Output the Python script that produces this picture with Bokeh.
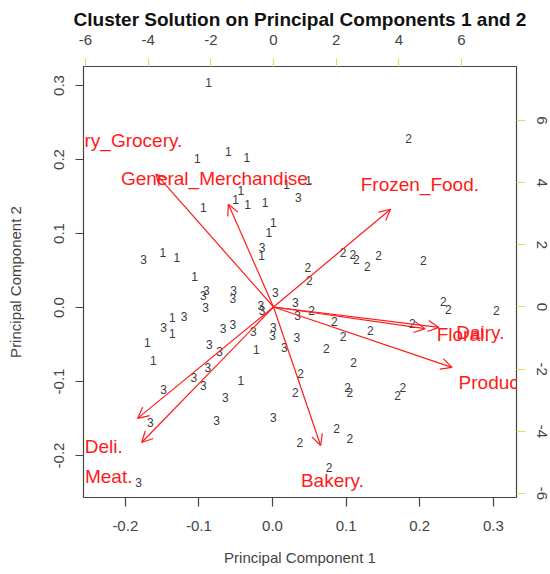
from bokeh.plotting import figure
from bokeh.models import (Range1d, LinearAxis, FixedTicker, PrintfTickFormatter,
                          Arrow, OpenHead, ColumnDataSource)
from bokeh.core.properties import value
from bokeh.embed import file_html
from bokeh.resources import INLINE

# ---- cluster scores on PC1 / PC2 ----
c1_x = [-0.087, -0.060, -0.102, -0.035, -0.094, -0.043, -0.050, -0.034, -0.010, 0.019, 0.049, 0.001,
        -0.005, -0.015, -0.149, -0.130, -0.106, -0.136, -0.136, -0.170, -0.162, -0.022, -0.043]
c1_y = [0.304, 0.211, 0.201, 0.203, 0.135, 0.158, 0.146, 0.139, 0.142, 0.166, 0.172, 0.115,
        0.101, 0.070, 0.074, 0.068, 0.042, -0.014, -0.035, -0.047, -0.072, -0.057, -0.099]

c2_x = [0.185, 0.096, 0.109, 0.114, 0.129, 0.144, 0.205, 0.048, 0.050, 0.053, 0.084, 0.232, 0.239,
        0.304, 0.190, 0.133, 0.096, 0.073, 0.110, 0.038, 0.031, 0.102, 0.105, 0.177, 0.170, 0.087,
        0.105, 0.037, 0.077]
c2_y = [0.228, 0.074, 0.072, 0.065, 0.055, 0.070, 0.064, 0.054, 0.036, -0.004, -0.019, 0.008, -0.003,
        -0.004, -0.022, -0.031, -0.039, -0.055, -0.074, -0.089, -0.115, -0.108, -0.115, -0.108, -0.119,
        -0.164, -0.177, -0.182, -0.216]

c3_x = [0.035, -0.014, -0.175, -0.090, -0.094, -0.053, -0.054, -0.091, -0.016, -0.014, 0.004, 0.031,
        0.034, -0.120, -0.148, -0.067, -0.054, -0.026, 0.001, 0.000, 0.033, 0.016, -0.086, -0.072,
        -0.088, -0.107, -0.094, -0.148, -0.064, -0.166, -0.076, 0.001, -0.182]
c3_y = [0.149, 0.081, 0.065, 0.023, 0.016, 0.023, 0.012, 0.000, 0.003, -0.004, 0.020, 0.007,
        -0.011, -0.012, -0.027, -0.028, -0.023, -0.032, -0.027, -0.038, -0.041, -0.054, -0.050, -0.059,
        -0.081, -0.095, -0.105, -0.111, -0.122, -0.155, -0.153, -0.149, -0.236]

# ---- variable loadings (secondary axes) ----
var_names = ["Dry_Grocery.", "General_Merchandise.", "Frozen_Food.", "Deli.", "Meat.",
             "Bakery.", "Produce.", "Dairy.", "Floral."]
load_x = [-4.69, -1.80, 4.67, -5.42, -5.26, 1.88, 7.12, 6.60, 6.05]
load_y = [5.35, 4.13, 3.93, -4.48, -5.45, -5.57, -2.43, -0.82, -0.87]

pc_ticks = [-0.2, -0.1, 0.0, 0.1, 0.2, 0.3]
load_ticks = [-6, -4, -2, 0, 2, 4, 6]

RED = "#ff1a1a"
FONT = "Liberation Sans"

p = figure(width=550, height=574,
           x_range=Range1d(-0.2568, 0.3315), y_range=Range1d(-0.2568, 0.3257),
           output_backend="svg", toolbar_location=None,
           min_border_left=83, min_border_right=34, min_border_top=66, min_border_bottom=77,
           x_axis_label="Principal Component 1", y_axis_label="Principal Component 2")
p.extra_x_ranges = {"load": Range1d(-6.064, 7.755)}
p.extra_y_ranges = {"load": Range1d(-6.129, 7.737)}

p.title.text = "Cluster Solution on Principal Components 1 and 2"
p.title.align = "center"
p.title.text_font = FONT
p.title.text_font_size = "19px"
p.title.text_font_style = "bold"
p.title.text_color = "#111111"
p.title.standoff = 3

p.xgrid.visible = False
p.ygrid.visible = False
p.outline_line_color = "#444444"
p.outline_line_width = 1.2
p.background_fill_color = "white"
p.border_fill_color = "white"


def style_axis(ax, tick_color, out, standoff, vertical=False):
    ax.axis_line_color = None
    ax.major_tick_line_color = tick_color
    ax.major_tick_line_width = 1.2
    ax.major_tick_out = out
    ax.major_tick_in = 0
    ax.minor_tick_line_color = None
    ax.major_label_text_font = FONT
    ax.major_label_text_font_size = "15px"
    ax.major_label_text_color = "#444444"
    ax.major_label_standoff = standoff
    ax.axis_label_text_font = FONT
    ax.axis_label_text_font_size = "15px"
    ax.axis_label_text_font_style = "normal"
    ax.axis_label_text_color = "#444444"
    if vertical:
        ax.major_label_orientation = "vertical"


xa = p.xaxis[0]
xa.ticker = FixedTicker(ticks=pc_ticks)
xa.formatter = PrintfTickFormatter(format="%.1f")
style_axis(xa, "#444444", 9, 14)
xa.axis_label_standoff = 15

ya = p.yaxis[0]
ya.ticker = FixedTicker(ticks=pc_ticks)
ya.formatter = PrintfTickFormatter(format="%.1f")
style_axis(ya, "#444444", 8, 11, vertical=True)
ya.axis_label_standoff = 28

top_ax = LinearAxis(x_range_name="load", ticker=FixedTicker(ticks=load_ticks),
                    formatter=PrintfTickFormatter(format="%d"))
style_axis(top_ax, "#e6dc5a", 8, 14)
p.add_layout(top_ax, "above")

right_ax = LinearAxis(y_range_name="load", ticker=FixedTicker(ticks=load_ticks),
                      formatter=PrintfTickFormatter(format="%d"))
style_axis(right_ax, "#e6dc5a", 9, 11, vertical=True)
p.add_layout(right_ax, "right")

text_kw = dict(text_font=value(FONT), text_font_size=value("12px"), text_color="#3a3a3a",
               text_align="center", text_baseline="middle")
p.text(x=c1_x, y=c1_y, text=["1"] * len(c1_x), **text_kw)
p.text(x=c2_x, y=c2_y, text=["2"] * len(c2_x), **text_kw)
p.text(x=c3_x, y=c3_y, text=["3"] * len(c3_x), **text_kw)

# arrows drawn to 0.8 of the loading, labels at the loading (as biplot does)
arrow_src = ColumnDataSource(dict(
    x0=[0.0] * len(load_x), y0=[0.0] * len(load_y),
    x1=[0.8 * v for v in load_x], y1=[0.8 * v for v in load_y]))
p.add_layout(Arrow(end=OpenHead(size=11, line_color=RED, line_width=1.2),
                   x_start="x0", y_start="y0", x_end="x1", y_end="y1", source=arrow_src,
                   line_color=RED, line_width=1.2,
                   x_range_name="load", y_range_name="load"))

label_src = ColumnDataSource(dict(x=load_x, y=load_y, t=var_names))
p.text(x="x", y="y", text="t", source=label_src, x_range_name="load", y_range_name="load",
       text_font=value(FONT), text_font_size=value("19px"), text_color=RED,
       text_align="center", text_baseline="middle")

open("out.html", "w").write(file_html(p, INLINE))
